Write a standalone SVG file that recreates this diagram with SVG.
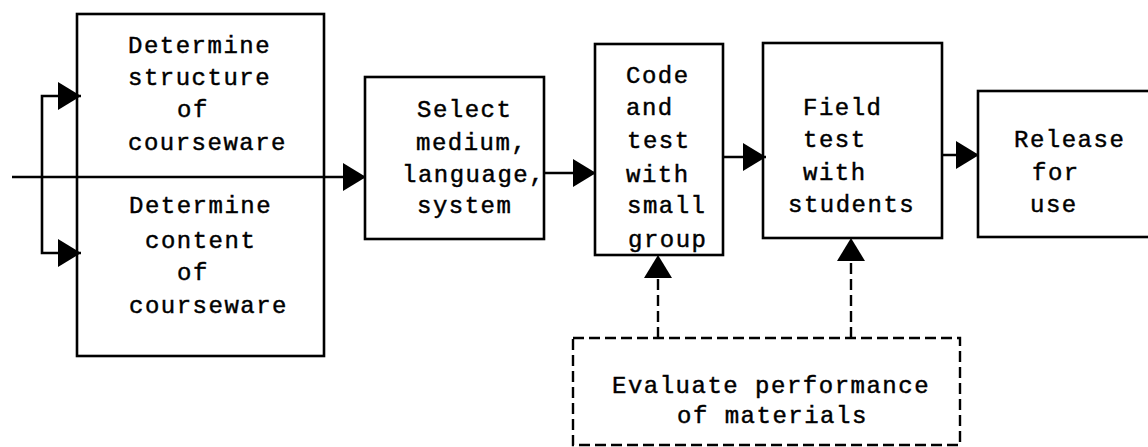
<svg xmlns="http://www.w3.org/2000/svg" width="1148" height="447" viewBox="0 0 1148 447">
  <style>
    .box { fill: none; stroke: #000; stroke-width: 2.6; }
    .dash { fill: none; stroke: #000; stroke-width: 2.4; stroke-dasharray: 11 5; }
    .wire { fill: none; stroke: #000; stroke-width: 2.6; }
    .wire-dash { fill: none; stroke: #000; stroke-width: 2.4; stroke-dasharray: 11 5; }
    text { font-family: "Liberation Mono", "Courier New", monospace; font-size: 24px; letter-spacing: 1.5px; fill: #000; stroke: #000; stroke-width: 0.45; }
  </style>
  <defs>
    <marker id="head" markerUnits="userSpaceOnUse" markerWidth="26" markerHeight="30" refX="23" refY="14" orient="auto">
      <path d="M0,0 L23,14 L0,28 z" fill="#000"/>
    </marker>
  </defs>
  <rect width="1148" height="447" fill="#fff"/>

  <!-- connectors -->
  <g id="connectors">
    <path class="wire" d="M12,177 H366" marker-end="url(#head)"/>
    <path class="wire" d="M42,177 V96 H81" marker-end="url(#head)"/>
    <path class="wire" d="M42,177 V253 H81" marker-end="url(#head)"/>
    <path class="wire" d="M544,173 H596" marker-end="url(#head)"/>
    <path class="wire" d="M723,157 H766" marker-end="url(#head)"/>
    <path class="wire" d="M942,155 H979" marker-end="url(#head)"/>
    <path class="wire-dash" d="M658,338 V276"/>
    <path d="M644,278 L658,255 L672,278 z" fill="#000"/>
    <path class="wire-dash" d="M851,338 V259"/>
    <path d="M837,261 L851,238 L865,261 z" fill="#000"/>
  </g>

  <!-- two-part design box -->
  <g id="design">
    <rect class="box" x="77" y="14" width="247" height="342"/>
    <text x="128" y="53">Determine</text>
    <text x="128" y="85">structure</text>
    <text x="177" y="117">of</text>
    <text x="128" y="150">courseware</text>
    <text x="129" y="213">Determine</text>
    <text x="145" y="248">content</text>
    <text x="177" y="280">of</text>
    <text x="129" y="313">courseware</text>
  </g>

  <g id="select">
    <rect class="box" x="365" y="77" width="179" height="162"/>
    <text x="417" y="117">Select</text>
    <text x="416" y="150">medium,</text>
    <text x="402" y="182">language,</text>
    <text x="417" y="213">system</text>
  </g>

  <g id="code">
    <rect class="box" x="595" y="44" width="128" height="211"/>
    <text x="626" y="83">Code</text>
    <text x="626" y="115">and</text>
    <text x="627" y="148">test</text>
    <text x="626" y="182">with</text>
    <text x="627" y="213">small</text>
    <text x="628" y="247">group</text>
  </g>

  <g id="field">
    <rect class="box" x="763" y="43" width="179" height="195"/>
    <text x="803" y="115">Field</text>
    <text x="803" y="147">test</text>
    <text x="803" y="180">with</text>
    <text x="788" y="212">students</text>
  </g>

  <g id="release">
    <rect class="box" x="978" y="91" width="190" height="146"/>
    <text x="1014" y="147">Release</text>
    <text x="1032" y="180">for</text>
    <text x="1030" y="212">use</text>
  </g>

  <g id="evaluate">
    <rect class="dash" x="573" y="338" width="387" height="107"/>
    <text x="612" y="393">Evaluate performance</text>
    <text x="677" y="423">of materials</text>
  </g>
</svg>
